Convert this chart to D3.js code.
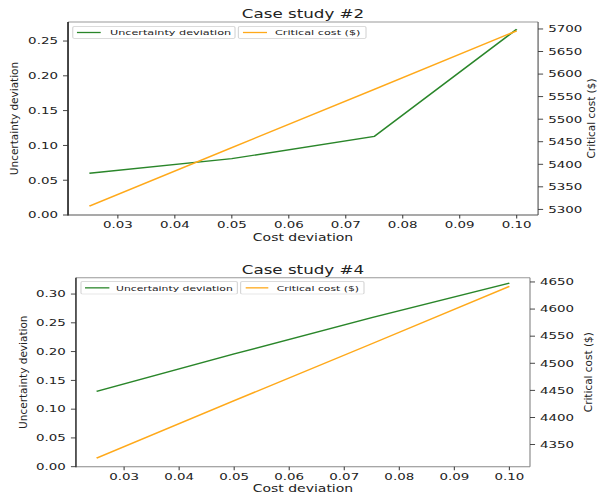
<!DOCTYPE html>
<html>
<head>
<meta charset="utf-8">
<script src="https://cdn.jsdelivr.net/npm/d3@7"></script>
<style>
  html, body { margin: 0; padding: 0; background: #fff; }
  svg { display: block; }
  text { font-family: "DejaVu Sans", sans-serif; fill: #222; }
</style>
</head>
<body>
<script>
// ---- data ----
const costDeviation = [0.025, 0.05, 0.075, 0.10];
const uncertainty2 = [0.060, 0.081, 0.113, 0.267];
const criticalCost2 = [5307, 5437, 5566, 5696];
const uncertainty4 = [0.131, 0.196, 0.259, 0.319];
const criticalCost4 = [4325, 4431, 4536, 4642];
const xTicks = [0.03, 0.04, 0.05, 0.06, 0.07, 0.08, 0.09, 0.10];
const leftTicks2 = [0.00, 0.05, 0.10, 0.15, 0.20, 0.25];
const rightTicks2 = [5300, 5350, 5400, 5450, 5500, 5550, 5600, 5650, 5700];
const leftTicks4 = [0.00, 0.05, 0.10, 0.15, 0.20, 0.25, 0.30];
const rightTicks4 = [4350, 4400, 4450, 4500, 4550, 4600, 4650];
const titles = ["Case study #2", "Case study #4"];
const seriesNames = ["Uncertainty deviation", "Critical cost ($)"];
const xLabel = "Cost deviation";
const leftLabel = "Uncertainty deviation";
const rightLabel = "Critical cost ($)";

// ---- layout (base coords, stretched horizontally) ----
const W = 598, H = 497, SX = 1.441, W0 = W / SX;
const GREEN = "#2a862a", ORANGE = "#FFA91A";

const svg = d3.select("body").append("svg")
  .attr("width", W).attr("height", H)
  .attr("viewBox", `0 0 ${W0} ${H}`)
  .attr("preserveAspectRatio", "none");

function margins(arr, bottomZero) {
  const mn = d3.min(arr), mx = d3.max(arr), r = mx - mn;
  return [bottomZero ? 0 : mn - 0.05 * r, mx + 0.05 * r];
}

const panels = [
  { title: titles[0], left: 47.2, right: 373.4, top: 22, bottom: 215,
    u: uncertainty2, c: criticalCost2, lt: leftTicks2, rt: rightTicks2,
    titleY: 18, xlabY: 241, ylabX: 12.2, rlabX: 412.6, legFont: 7.8,
    leg: { y0: 26.7, y1: 38.3, b1: [50.5, 163.1], l1: [53.4, 69.9], t1: 76.3,
           b2: [165.4, 254], l2: [168.6, 185.3], t2: 190.8 },
    spL: "#2a2a2a", spO: "#555", spT: "#9a9a9a" },
  { title: titles[1], left: 52.7, right: 367.8, top: 277.7, bottom: 466.7,
    u: uncertainty4, c: criticalCost4, lt: leftTicks4, rt: rightTicks4,
    titleY: 274, xlabY: 492, ylabX: 18.6, rlabX: 410.5, legFont: 7.5,
    leg: { y0: 281.7, y1: 294, b1: [56.2, 164.7], l1: [59, 75.9], t1: 80.5,
           b2: [167, 252.6], l2: [170.5, 186.2], t2: 192 },
    spL: "#444", spO: "#888", spT: "#999" }
];

panels.forEach(p => {
  const g = svg.append("g");
  const x = d3.scaleLinear().domain(margins(costDeviation)).range([p.left, p.right]);
  const yL = d3.scaleLinear().domain(margins(p.u, true)).range([p.bottom, p.top]);
  const yR = d3.scaleLinear().domain(margins(p.c)).range([p.bottom, p.top]);

  // lines
  const lineU = d3.line().x((d, i) => x(costDeviation[i])).y(d => yL(d));
  const lineC = d3.line().x((d, i) => x(costDeviation[i])).y(d => yR(d));
  g.append("path").datum(p.u).attr("d", lineU).attr("fill", "none")
    .attr("stroke", GREEN).attr("stroke-width", 1.4);
  g.append("path").datum(p.c).attr("d", lineC).attr("fill", "none")
    .attr("stroke", ORANGE).attr("stroke-width", 1.4);

  // spines
  g.append("line").attr("x1", p.left).attr("x2", p.right).attr("y1", p.top).attr("y2", p.top)
    .attr("stroke", p.spT).attr("stroke-width", 0.9);
  g.append("line").attr("x1", p.right).attr("x2", p.right).attr("y1", p.top).attr("y2", p.bottom)
    .attr("stroke", p.spO).attr("stroke-width", 0.8);
  g.append("line").attr("x1", p.left).attr("x2", p.right).attr("y1", p.bottom).attr("y2", p.bottom)
    .attr("stroke", p.spO).attr("stroke-width", 1.1);
  g.append("line").attr("x1", p.left).attr("x2", p.left).attr("y1", p.top).attr("y2", p.bottom + 0.5)
    .attr("stroke", p.spL).attr("stroke-width", 1.2);

  // x ticks
  xTicks.forEach(t => {
    g.append("line").attr("x1", x(t)).attr("x2", x(t)).attr("y1", p.bottom).attr("y2", p.bottom + 3.5)
      .attr("stroke", "#333").attr("stroke-width", 0.7);
    g.append("text").attr("x", x(t)).attr("y", p.bottom + 13.5)
      .attr("text-anchor", "middle").attr("font-size", 9.3).text(d3.format(".2f")(t));
  });
  // left ticks
  p.lt.forEach(t => {
    g.append("line").attr("x1", p.left - 3.5).attr("x2", p.left).attr("y1", yL(t)).attr("y2", yL(t))
      .attr("stroke", "#333").attr("stroke-width", 0.9);
    g.append("text").attr("x", p.left - 7).attr("y", yL(t)).attr("dy", "0.36em")
      .attr("text-anchor", "end").attr("font-size", 9.3).text(d3.format(".2f")(t));
  });
  // right ticks
  p.rt.forEach(t => {
    g.append("line").attr("x1", p.right).attr("x2", p.right + 3.5).attr("y1", yR(t)).attr("y2", yR(t))
      .attr("stroke", "#333").attr("stroke-width", 0.9);
    g.append("text").attr("x", p.right + 7).attr("y", yR(t)).attr("dy", "0.36em")
      .attr("text-anchor", "start").attr("font-size", 9.3).text(t);
  });

  // labels
  const cx = (p.left + p.right) / 2, cy = (p.top + p.bottom) / 2;
  g.append("text").attr("x", cx).attr("y", p.titleY).attr("text-anchor", "middle")
    .attr("font-size", 11.6).text(p.title);
  g.append("text").attr("x", cx).attr("y", p.xlabY).attr("text-anchor", "middle")
    .attr("font-size", 9.7).text(xLabel);
  g.append("text").attr("transform", `translate(${p.ylabX},${cy}) rotate(-90) scale(1,0.72)`)
    .attr("text-anchor", "middle").attr("font-size", 10.5).text(leftLabel);
  g.append("text").attr("transform", `translate(${p.rlabX},${cy}) rotate(-90) scale(1,0.72)`)
    .attr("text-anchor", "middle").attr("font-size", 10.5).text(rightLabel);

  // legends
  const L = p.leg, ly = (L.y0 + L.y1) / 2;
  [[L.b1, L.l1, L.t1, GREEN, seriesNames[0]], [L.b2, L.l2, L.t2, ORANGE, seriesNames[1]]]
    .forEach(([b, l, tx, col, name]) => {
      g.append("rect").attr("x", b[0]).attr("y", L.y0).attr("width", b[1] - b[0])
        .attr("height", L.y1 - L.y0).attr("rx", 1).attr("fill", "#fff")
        .attr("fill-opacity", 0.9).attr("stroke", "#d0d0d0").attr("stroke-width", 0.7);
      g.append("line").attr("x1", l[0]).attr("x2", l[1]).attr("y1", ly).attr("y2", ly)
        .attr("stroke", col).attr("stroke-width", 1.3);
      g.append("text").attr("x", tx).attr("y", ly).attr("dy", "0.36em")
        .attr("font-size", p.legFont).text(name);
    });
});
</script>
</body>
</html>
